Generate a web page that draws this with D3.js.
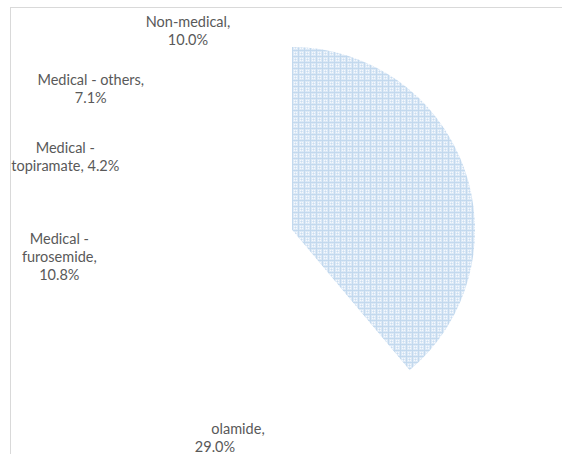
<!DOCTYPE html>
<html>
<head>
<meta charset="utf-8">
<script src="https://cdn.jsdelivr.net/npm/d3@7"></script>
<style>
  html, body { margin: 0; padding: 0; background: #fff; }
  svg { display: block; }
</style>
</head>
<body>
<svg id="chart" width="562" height="454"></svg>
<script>
// Slice categories in clockwise order, starting at 12 o'clock
const categories = ["Other", "olamide", "Medical - furosemide", "Medical - topiramate", "Medical - others", "Non-medical"];
// Share of each category, in percent
const values = [38.9, 29.0, 10.8, 4.2, 7.1, 10.0];
// Label text lines; {p} is replaced with the formatted share
const labelLines = [
  null,
  ["olamide,", "{p}"],
  ["Medical -", "furosemide,", "{p}"],
  ["Medical -", "topiramate, {p}"],
  ["Medical - others,", "{p}"],
  ["Non-medical,", "{p}"]
];

// ---- layout & style ----
const W = 562, H = 454;
const cx = 292, cy = 230, radius = 183;
const labelRadius = radius + 50;
const lineH = 18;
// pixel nudges that keep labels clear of each other
const labelNudge = [
  null,
  { dx: -4.6, dy: -20, lineDx: [0, -23] },
  { dx: -1, dy: 2 },
  { dx: -9, dy: 10 },
  { dx: -26, dy: 12.5 },
  { dx: -32, dy: 23 }
];
const highlighted = 0;

const svg = d3.select("#chart");

// fine dotted-grid pattern for the highlighted slice
const defs = svg.append("defs");
const pat = defs.append("pattern")
  .attr("id", "grid")
  .attr("patternUnits", "userSpaceOnUse")
  .attr("width", 6).attr("height", 6);
pat.append("rect").attr("width", 6).attr("height", 6).attr("fill", "#dce9f6");
pat.append("rect").attr("x", 0).attr("y", 0).attr("width", 6).attr("height", 1).attr("fill", "#c3d9ee");
pat.append("rect").attr("x", 0).attr("y", 0).attr("width", 1).attr("height", 6).attr("fill", "#c3d9ee");
[[2, 2], [4, 4], [2, 4], [4, 2]].forEach(([x, y]) =>
  pat.append("rect").attr("x", x).attr("y", y).attr("width", 1).attr("height", 1).attr("fill", "#f6f9fd"));
pat.append("rect").attr("x", 3).attr("y", 3).attr("width", 1).attr("height", 1).attr("fill", "#c9dcf0");

// chart-area frame
svg.append("rect")
  .attr("x", 10.5).attr("y", 7.5)
  .attr("width", W + 20).attr("height", H + 20)
  .attr("fill", "#fff")
  .attr("stroke", "#d9d9d9")
  .attr("stroke-width", 1);

const data = categories.map((c, i) => ({ cat: c, value: values[i], i }));

const pie = d3.pie().sort(null).value(d => d.value)
  .startAngle(0).endAngle(2 * Math.PI);
const arcs = pie(data);

const arc = d3.arc().innerRadius(0).outerRadius(radius);
const labelArc = d3.arc().innerRadius(labelRadius).outerRadius(labelRadius);

const g = svg.append("g").attr("transform", `translate(${cx},${cy})`);

g.selectAll("path.slice")
  .data(arcs)
  .join("path")
  .attr("class", "slice")
  .attr("d", arc)
  .attr("fill", d => d.data.i === highlighted ? "url(#grid)" : "#ffffff")
  .attr("stroke", "none");

const total = d3.sum(values);
const fmt = d3.format(".1%");

const labels = g.selectAll("g.label")
  .data(arcs.filter(d => labelLines[d.data.i]))
  .join("g")
  .attr("class", "label")
  .attr("transform", d => {
    const [x, y] = labelArc.centroid(d);
    const n = labelNudge[d.data.i];
    return `translate(${x + n.dx},${y + n.dy})`;
  });

labels.each(function (d) {
  const lines = labelLines[d.data.i].map(s => s.replace("{p}", fmt(d.data.value / total)));
  const n = labelNudge[d.data.i];
  const t = d3.select(this).append("text")
    .attr("text-anchor", "middle")
    .attr("font-family", "'Source Sans Pro', Lato, 'Noto Sans', sans-serif")
    .attr("font-size", "14.5px")
    .attr("fill", "#595959");
  lines.forEach((s, k) => {
    t.append("tspan")
      .attr("x", n.lineDx ? n.lineDx[k] : 0)
      .attr("y", (k - (lines.length - 1) / 2) * lineH)
      .attr("dy", "0.35em")
      .text(s);
  });
});
</script>
</body>
</html>
